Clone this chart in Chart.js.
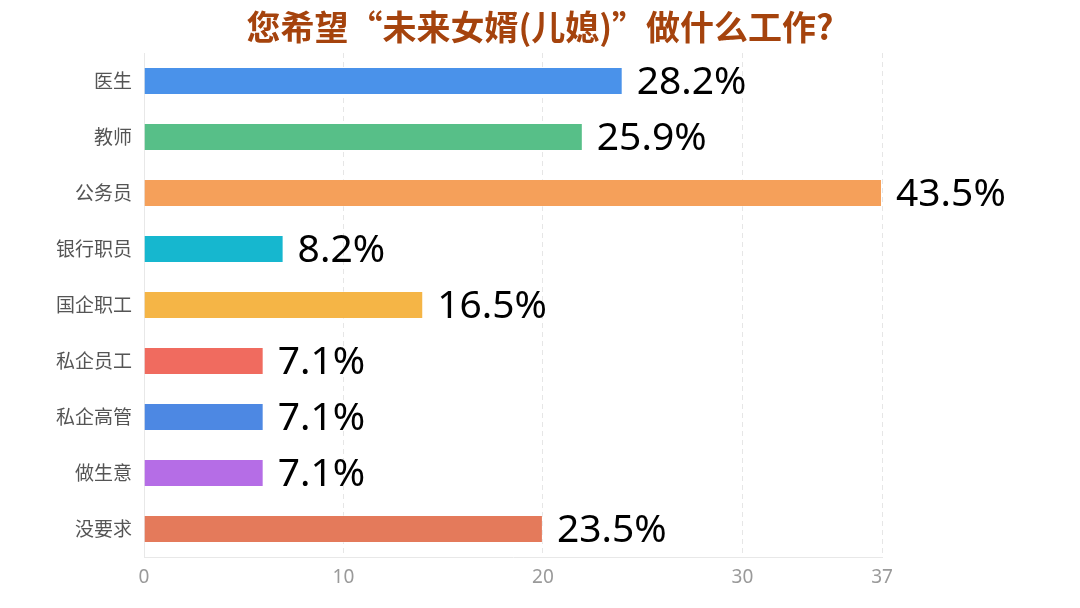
<!DOCTYPE html>
<html>
<head>
<meta charset="utf-8">
<script src="https://cdn.jsdelivr.net/npm/chart.js@4"></script>
<style>
  html, body { margin: 0; padding: 0; background: #fff; }
  #wrap { width: 1080px; height: 608px; }
</style>
</head>
<body>
<div id="wrap"><canvas id="jobChart"></canvas></div>
<script>
    var chartTitle = '您希望“未来女婿(儿媳)”做什么工作?';
    var categories = ["医生", "教师", "公务员", "银行职员", "国企职工", "私企员工", "私企高管", "做生意", "没要求"];
    var counts = [24, 22, 37, 7, 14, 6, 6, 6, 20];
    var percentLabels = ["28.2%", "25.9%", "43.5%", "8.2%", "16.5%", "7.1%", "7.1%", "7.1%", "23.5%"];
    var xTicks = [0, 10, 20, 30, 37];
    var barColors = ['#4a92ea', '#57bf88', '#f5a05a', '#16b7cf', '#f5b546', '#f06b5f', '#4d88e3', '#b56de6', '#e47a5b'];

    // percent text to the right of each bar, title centred on the page
    var valueLabels = {
        id: 'valueLabels',
        afterDatasetsDraw: function (chart) {
            var ctx = chart.ctx;
            var meta = chart.getDatasetMeta(0);
            ctx.save();
            ctx.font = '39px "Noto Sans", "Noto Sans CJK SC", sans-serif';
            ctx.fillStyle = '#000';
            ctx.textAlign = 'left';
            ctx.textBaseline = 'middle';
            meta.data.forEach(function (bar, i) {
                ctx.fillText(percentLabels[i], bar.x + 14, bar.y + 2);
            });
            ctx.font = 'bold 34px "Noto Sans CJK SC", sans-serif';
            ctx.fillStyle = '#a5430d';
            ctx.textAlign = 'center';
            ctx.fillText(chartTitle, chart.width / 2, 27);
            ctx.restore();
        }
    };

    var el = document.getElementById("jobChart");
    var jobChart = new Chart(el, {
        type: 'bar',
        data: {
            labels: categories,
            datasets: [{
                data: counts,
                backgroundColor: barColors,
                borderColor: 'rgba(255,255,255,0.35)',
                borderWidth: 1,
                barPercentage: 0.5,
                categoryPercentage: 1.0
            }]
        },
        plugins: [valueLabels],
        options: {
            indexAxis: 'y',
            responsive: true,
            maintainAspectRatio: false,
            animation: false,
            layout: {
                padding: { left: 20, right: 198, top: 53, bottom: 0 }
            },
            plugins: {
                legend: { display: false },
                tooltip: { enabled: false },
                title: { display: false }
            },
            scales: {
                x: {
                    min: 0,
                    max: 37,
                    afterBuildTicks: function (axis) {
                        axis.ticks = xTicks.map(function (v) { return { value: v }; });
                    },
                    afterFit: function (axis) { axis.height = 51; },
                    grid: {
                        color: '#e6e6e6',
                        drawTicks: false,
                        tickLength: 0
                    },
                    border: { display: true, color: '#e8e8e8', dash: [5, 4] },
                    ticks: {
                        color: '#9a9a9a',
                        padding: 9,
                        font: { family: '"Noto Sans", sans-serif', size: 19 }
                    }
                },
                y: {
                    afterFit: function (axis) { axis.width = 124; },
                    grid: { display: false, drawTicks: false },
                    border: { display: true, color: '#e8e8e8' },
                    ticks: {
                        color: '#555',
                        padding: 12,
                        font: { family: '"Noto Sans CJK SC", sans-serif', size: 19 }
                    }
                }
            }
        }
    });
</script>
</body>
</html>
